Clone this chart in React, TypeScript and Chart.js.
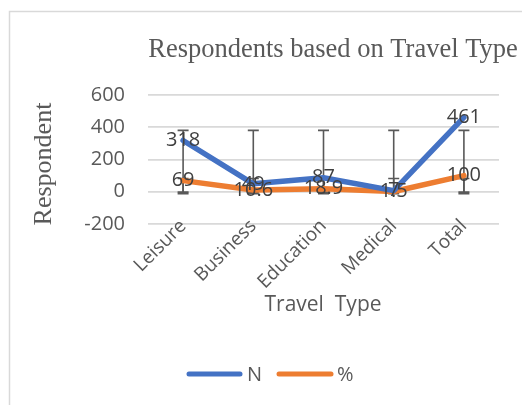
import { useEffect, useRef } from "react";
import { Chart, registerables } from "chart.js";

Chart.register(...registerables);

// Travel type categories and the two series plotted against them
const categories = ["Leisure", "Business", "Education", "Medical", "Total"];
const respondentsN = [318, 49, 87, 7, 461];
const respondentsPct = [69, 10.6, 18.9, 1.5, 100];

// Value axis range
const yMin = -200;
const yMax = 600;
const yStep = 200;

const seriesNames = ["N", "%"];
const seriesColors = ["#4472C4", "#ED7D31"];

const SANS = "'Open Sans', sans-serif";
const SERIF = "'Liberation Serif', 'Times New Roman', serif";
const TEXT_GREY = "#595959";

// Standard-deviation error bars: every bar is centred on the series mean
function stdDevBar(values: number[]) {
  const n = values.length;
  const mean = values.reduce((a, b) => a + b, 0) / n;
  const variance = values.reduce((a, b) => a + (b - mean) * (b - mean), 0) / (n - 1);
  const sd = Math.sqrt(variance);
  return { low: mean - sd, high: mean + sd };
}

const decorations = {
  id: "decorations",
  beforeDraw(chart: any) {
    const { ctx, width, height } = chart;
    ctx.save();
    ctx.fillStyle = "#ffffff";
    ctx.fillRect(0, 0, width, height);
    ctx.strokeStyle = "#d9d9d9";
    ctx.lineWidth = 1.5;
    ctx.strokeRect(9.5, 11.5, width + 20, height + 20);
    ctx.restore();
  },
  beforeDatasetsDraw(chart: any) {
    const { ctx } = chart;
    const xs = chart.scales.x;
    const ys = chart.scales.y;
    const series = [respondentsN, respondentsPct];
    ctx.save();
    ctx.strokeStyle = TEXT_GREY;
    ctx.lineWidth = 1.6;
    const cap = 5.5;
    series.forEach((vals) => {
      const bar = stdDevBar(vals);
      const yTop = ys.getPixelForValue(bar.high);
      const yBot = ys.getPixelForValue(bar.low);
      vals.forEach((_v, i) => {
        const x = xs.getPixelForValue(i);
        ctx.beginPath();
        ctx.moveTo(x, yTop);
        ctx.lineTo(x, yBot);
        ctx.moveTo(x - cap, yTop);
        ctx.lineTo(x + cap, yTop);
        ctx.moveTo(x - cap, yBot);
        ctx.lineTo(x + cap, yBot);
        ctx.stroke();
      });
    });
    ctx.restore();
  },
  afterDatasetsDraw(chart: any) {
    const { ctx } = chart;
    ctx.save();
    ctx.font = `20px ${SANS}`;
    ctx.fillStyle = "#404040";
    ctx.textAlign = "center";
    ctx.textBaseline = "middle";
    chart.data.datasets.forEach((ds: any, di: number) => {
      const meta = chart.getDatasetMeta(di);
      meta.data.forEach((pt: any, i: number) => {
        ctx.fillText(String(ds.data[i]), pt.x, pt.y);
      });
    });
    ctx.restore();
  },
  afterDraw(chart: any) {
    const { ctx } = chart;
    ctx.save();
    ctx.fillStyle = TEXT_GREY;

    // chart title
    ctx.font = `26.5px ${SERIF}`;
    ctx.textAlign = "center";
    ctx.textBaseline = "middle";
    ctx.fillText("Respondents based on Travel Type", 333, 50);

    // value axis title
    ctx.save();
    ctx.translate(44, 164);
    ctx.rotate(-Math.PI / 2);
    ctx.font = `26px ${SERIF}`;
    ctx.fillText("Respondent", 0, 0);
    ctx.restore();

    // category axis title
    ctx.font = `21px ${SANS}`;
    ctx.fillText("Travel  Type", 323, 305);

    // legend
    const legendY = 374;
    const items = [
      { x0: 189, x1: 240, tx: 247 },
      { x0: 279, x1: 331, tx: 337 },
    ];
    ctx.lineWidth = 5;
    ctx.lineCap = "round";
    ctx.textAlign = "left";
    ctx.font = `20px ${SANS}`;
    items.forEach((it, i) => {
      ctx.strokeStyle = seriesColors[i];
      ctx.beginPath();
      ctx.moveTo(it.x0, legendY);
      ctx.lineTo(it.x1, legendY);
      ctx.stroke();
      ctx.fillStyle = TEXT_GREY;
      ctx.fillText(seriesNames[i], it.tx, legendY + 1);
    });
    ctx.restore();
  },
};

export default function App() {
  const canvasRef = useRef<HTMLCanvasElement | null>(null);

  useEffect(() => {
    const canvas = canvasRef.current;
    if (!canvas) return;
    const chart = new Chart(canvas, {
      type: "line",
      data: {
        labels: categories,
        datasets: [respondentsN, respondentsPct].map((vals, i) => ({
          label: seriesNames[i],
          data: vals,
          borderColor: seriesColors[i],
          backgroundColor: seriesColors[i],
          borderWidth: 5.5,
          borderCapStyle: "round" as const,
          borderJoinStyle: "round" as const,
          pointRadius: 0,
          pointHoverRadius: 0,
          tension: 0,
          fill: false,
        })),
      },
      options: {
        animation: false,
        responsive: false,
        devicePixelRatio: 1,
        layout: { padding: { top: 95, right: 23, bottom: 0, left: 0 } },
        plugins: {
          legend: { display: false },
          title: { display: false },
          tooltip: { enabled: false },
        },
        scales: {
          x: {
            offset: true,
            grid: { display: false, drawTicks: false },
            border: { display: false },
            ticks: {
              font: { family: SANS, size: 19 },
              color: TEXT_GREY,
              minRotation: 45,
              maxRotation: 45,
              padding: -9,
            },
            afterFit(scale: any) {
              scale.height = 405 - 224;
              // let the rotated labels tuck up against the plot bottom without clipping
              scale._computeLabelArea = () => undefined;
            },
          },
          y: {
            min: yMin,
            max: yMax,
            ticks: {
              stepSize: yStep,
              font: { family: SANS, size: 20 },
              color: TEXT_GREY,
              padding: 23,
            },
            grid: { color: "#d9d9d9", lineWidth: 1.8, drawTicks: false },
            border: { display: false },
            afterFit(scale: any) {
              scale.width = 148;
            },
          },
        },
      },
      plugins: [decorations],
    });
    return () => chart.destroy();
  }, []);

  return (
    <div style={{ position: "fixed", left: 0, top: 0, width: 522, height: 405 }}>
      <canvas ref={canvasRef} width={522} height={405} style={{ width: 522, height: 405 }} />
    </div>
  );
}
